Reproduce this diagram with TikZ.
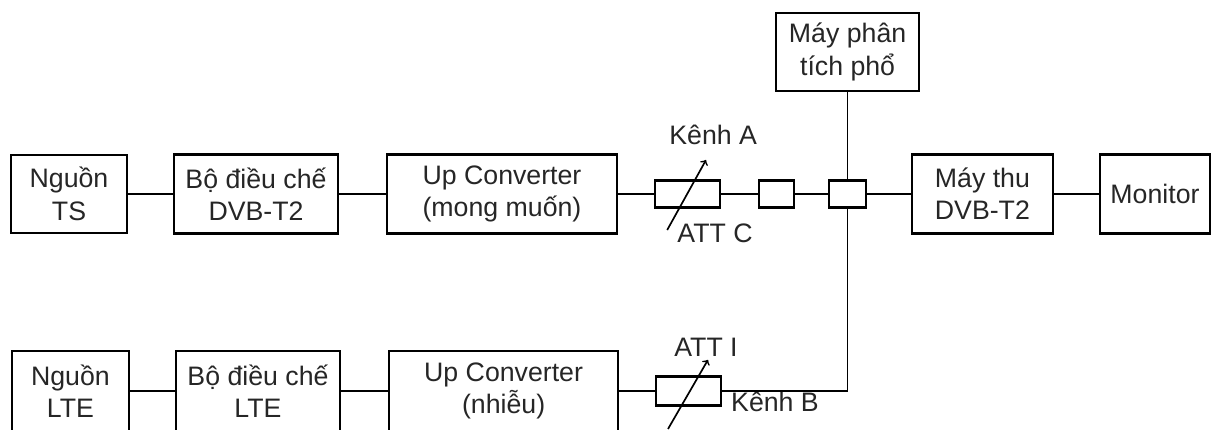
\documentclass[tikz,border=0pt]{standalone}
\usepackage{fontspec}
\setmainfont{Liberation Sans}
\usetikzlibrary{arrows}

\begin{document}
\begin{tikzpicture}[
    blk/.style={draw, line width=1.5pt, align=center, inner sep=0pt, text=black!85, font=\fontsize{19}{23}\selectfont},
    att/.style={draw, line width=1.5pt, inner sep=0pt},
    lbl/.style={text=black!85, font=\fontsize{19}{23}\selectfont},
    wire/.style={line width=1.2pt}
]
    \useasboundingbox (0,0) rectangle (30.3,10.75);

    % Upper chain
    \node[blk, minimum width=2.9cm, minimum height=1.95cm] (srcTS) at (1.725,5.9) {Nguồn\\TS};
    \node[blk, minimum width=4.1cm, minimum height=1.975cm] (modT2) at (6.4,5.9) {Bộ điều chế\\DVB-T2};
    \node[blk, minimum width=5.75cm, minimum height=1.975cm] (upA) at (12.55,5.9) {Up Converter\\(mong muốn)};
    \node[att, minimum width=1.625cm, minimum height=0.675cm] (attC) at (17.19,5.9) {};
    \node[att, minimum width=0.875cm, minimum height=0.675cm] (pad) at (19.41,5.9) {};
    \node[att, minimum width=0.925cm, minimum height=0.675cm] (split) at (21.19,5.9) {};
    \node[blk, minimum width=3.525cm, minimum height=1.975cm] (rx) at (24.56,5.9) {Máy thu\\DVB-T2};
    \node[blk, minimum width=2.75cm, minimum height=1.975cm] (mon) at (28.875,5.9) {Monitor};
    \node[blk, minimum width=3.575cm, minimum height=1.95cm] (ana) at (21.19,9.45) {Máy phân\\tích phổ};

    % Lower chain
    \node[blk, minimum width=2.925cm, minimum height=2cm] (srcLTE) at (1.76,0.975) {Nguồn\\LTE};
    \node[blk, minimum width=4.1cm, minimum height=2cm] (modLTE) at (6.45,0.975) {Bộ điều chế\\LTE};
    \node[blk, minimum width=5.725cm, minimum height=2cm] (upB) at (12.59,0.975) {Up Converter\\(nhiễu)};
    \node[att, minimum width=1.625cm, minimum height=0.725cm] (attI) at (17.21,0.975) {};
    \coordinate (bend) at (split |- attI);

    % Labels
    \node[lbl] (kenhA) at (17.83,7.375) {Kênh A};
    \node[lbl] (lblC) at (17.875,4.925) {ATT C};
    \node[lbl] (lblI) at (17.65,2.075) {ATT I};
    \node[lbl] (kenhB) at (19.375,0.7) {Kênh B};

    % Wires
    \draw[wire] (srcTS) -- (modT2);
    \draw[wire] (modT2) -- (upA);
    \draw[wire] (upA) -- (attC);
    \draw[wire] (attC) -- (pad);
    \draw[wire] (pad) -- (split);
    \draw[wire] (split) -- (rx);
    \draw[wire] (rx) -- (mon);
    \draw[wire] (ana) -- (split);
    \draw[wire] (srcLTE) -- (modLTE);
    \draw[wire] (modLTE) -- (upB);
    \draw[wire] (upB) -- (attI);
    \draw[wire] (attI) -- (bend) -- (split);

    % Variable attenuator arrows
    \draw[wire, ->] ([shift={(-0.51,-0.9)}]attC.center) -- ([shift={(0.46,0.85)}]attC.center);
    \draw[wire, ->] ([shift={(-0.51,-0.95)}]attI.center) -- ([shift={(0.49,0.78)}]attI.center);
\end{tikzpicture}
\end{document}
